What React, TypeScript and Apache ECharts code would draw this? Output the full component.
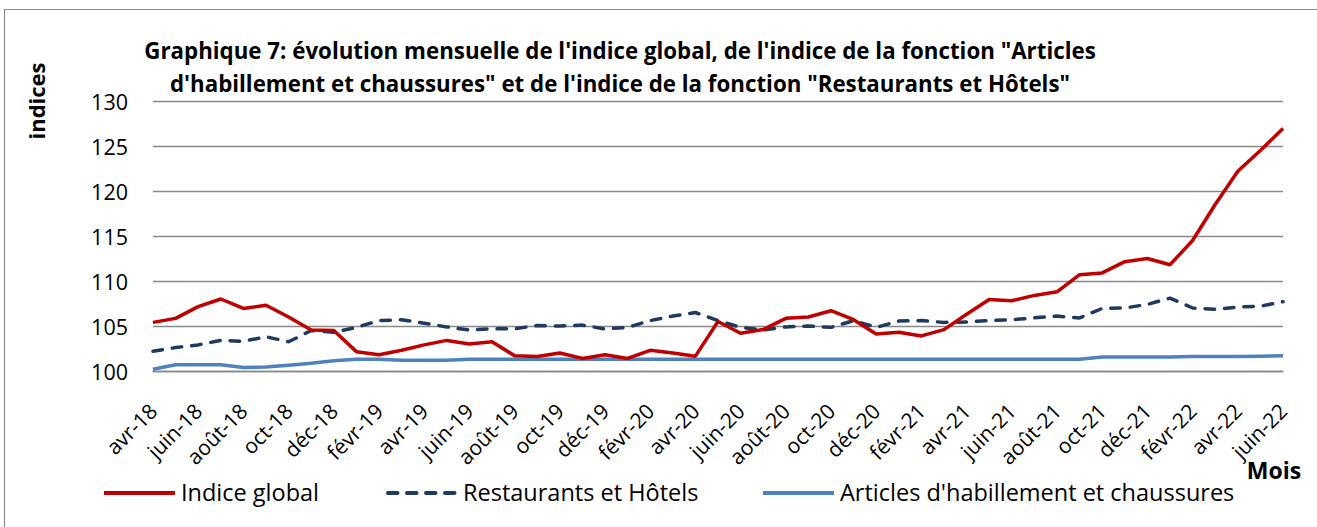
import React, { useEffect, useRef } from "react";
import * as echarts from "echarts";

const months: string[] = [
  "avr-18", "mai-18", "juin-18", "juil-18", "août-18", "sept-18", "oct-18", "nov-18", "déc-18",
  "janv-19", "févr-19", "mars-19", "avr-19", "mai-19", "juin-19", "juil-19", "août-19", "sept-19", "oct-19", "nov-19", "déc-19",
  "janv-20", "févr-20", "mars-20", "avr-20", "mai-20", "juin-20", "juil-20", "août-20", "sept-20", "oct-20", "nov-20", "déc-20",
  "janv-21", "févr-21", "mars-21", "avr-21", "mai-21", "juin-21", "juil-21", "août-21", "sept-21", "oct-21", "nov-21", "déc-21",
  "janv-22", "févr-22", "mars-22", "avr-22", "mai-22", "juin-22",
];

const indiceGlobal: number[] = [
  105.4, 105.85, 107.15, 108.0, 106.95, 107.3, 106.0, 104.55, 104.5, 102.15,
  101.8, 102.3, 102.9, 103.4, 103.0, 103.25, 101.7, 101.6, 102.0, 101.4,
  101.8, 101.4, 102.3, 102.0, 101.65, 105.5, 104.2, 104.6, 105.85, 106.0,
  106.7, 105.7, 104.1, 104.3, 103.9, 104.6, 106.3, 107.95, 107.8, 108.4,
  108.8, 110.7, 110.9, 112.15, 112.5, 111.8, 114.5, 118.5, 122.2, 124.5, 126.95,
];

const restaurants: number[] = [
  102.2, 102.6, 102.9, 103.4, 103.3, 103.8, 103.25, 104.5, 104.3, 104.85,
  105.6, 105.7, 105.3, 104.9, 104.55, 104.7, 104.7, 105.05, 105.0, 105.1,
  104.67, 104.85, 105.6, 106.1, 106.5, 105.6, 104.85, 104.55, 104.9, 105.0,
  104.85, 105.6, 104.85, 105.55, 105.6, 105.4, 105.45, 105.6, 105.7, 105.9,
  106.1, 105.9, 106.95, 107.0, 107.4, 108.1, 107.0, 106.85, 107.1, 107.2, 107.7,
];

const articles: number[] = [
  100.2, 100.7, 100.7, 100.7, 100.4, 100.45, 100.65, 100.85, 101.15, 101.3,
  101.3, 101.2, 101.2, 101.2, 101.3, 101.3, 101.3, 101.3, 101.3, 101.3,
  101.3, 101.3, 101.3, 101.3, 101.3, 101.3, 101.3, 101.3, 101.3, 101.3,
  101.3, 101.3, 101.3, 101.3, 101.3, 101.3, 101.3, 101.3, 101.3, 101.3,
  101.3, 101.3, 101.55, 101.55, 101.55, 101.55, 101.6, 101.6, 101.6, 101.65, 101.7,
];

const seriesNames = ["Indice global", "Restaurants et Hôtels", "Articles d'habillement et chaussures"];
const seriesColors = ["#C00000", "#1F3A5F", "#4F81BD"];
const titleLines = [
  "Graphique 7: évolution mensuelle de l'indice global, de l'indice de la fonction \"Articles",
  "d'habillement et chaussures\" et de l'indice de la fonction \"Restaurants et Hôtels\"",
];

const FONT = "'Open Sans', 'Noto Sans', sans-serif";
const DASH = [9.5, 10];
const LEGEND_DASH = [9.5, 9.5];

export default function App() {
  const ref = useRef<HTMLDivElement>(null);
  useEffect(() => {
    if (!ref.current) return;
    const chart = echarts.init(ref.current, undefined, { renderer: "svg" });
    const grid = "#898989";

    const legendX = [104, 386, 763];
    const legendTextX = [181, 463, 840];
    const legendY = 493;
    const legendGraphics: any[] = [];
    seriesNames.forEach((name, i) => {
      const dashed = i === 1;
      legendGraphics.push({
        type: "line",
        shape: {
          x1: legendX[i] + (dashed ? 2 : 0),
          y1: legendY,
          x2: legendX[i] + (dashed ? 69 : 71),
          y2: legendY,
        },
        style: {
          stroke: seriesColors[i],
          lineWidth: 4,
          lineCap: dashed ? "round" : "butt",
          lineDash: dashed ? LEGEND_DASH : null,
        },
        silent: true,
      });
      legendGraphics.push({
        type: "text",
        x: legendTextX[i],
        y: legendY - 1,
        style: { text: name, fontSize: 23.5, fill: "#000", textAlign: "left", textVerticalAlign: "middle", fontFamily: FONT },
      });
    });

    chart.setOption({
      animation: false,
      backgroundColor: "#ffffff",
      textStyle: { fontFamily: FONT },
      grid: { left: 153, right: 34, top: 101, bottom: 156, containLabel: false },
      xAxis: {
        type: "category",
        data: months,
        boundaryGap: false,
        axisTick: { show: false },
        axisLine: { lineStyle: { color: grid, width: 1.3 } },
        axisLabel: { interval: 1, rotate: 45, fontSize: 21, color: "#000", margin: 36, fontFamily: FONT },
        splitLine: { show: false },
      },
      yAxis: {
        type: "value",
        min: 100,
        max: 130,
        interval: 5,
        axisLine: { show: false },
        axisTick: { show: false },
        axisLabel: { fontSize: 21.5, color: "#000", margin: 25, fontFamily: FONT },
        splitLine: { lineStyle: { color: grid, width: 1.3 } },
      },
      graphic: [
        {
          type: "rect",
          shape: { x: 4.5, y: 9.5, width: 1400, height: 600 },
          style: { fill: "none", stroke: "#8a8a8a", lineWidth: 1.2 },
          silent: true,
        },
        {
          type: "text",
          x: 620,
          y: 50,
          style: { text: titleLines[0], fontSize: 22.3, fontWeight: "bold", fill: "#000", textAlign: "center", textVerticalAlign: "middle", fontFamily: FONT },
        },
        {
          type: "text",
          x: 620,
          y: 83,
          style: { text: titleLines[1], fontSize: 22.3, fontWeight: "bold", fill: "#000", textAlign: "center", textVerticalAlign: "middle", fontFamily: FONT },
        },
        {
          type: "text",
          x: 36,
          y: 101,
          rotation: Math.PI / 2,
          style: { text: "indices", fontSize: 22, fontWeight: "bold", fill: "#000", textAlign: "center", textVerticalAlign: "middle", fontFamily: FONT },
        },
        {
          type: "text",
          x: 1274,
          y: 470,
          style: { text: "Mois", fontSize: 23, fontWeight: "bold", fill: "#000", textAlign: "center", textVerticalAlign: "middle", fontFamily: FONT },
        },
        ...legendGraphics,
      ],
      series: [
        {
          name: seriesNames[0],
          type: "line",
          data: indiceGlobal,
          symbol: "none",
          lineStyle: { color: seriesColors[0], width: 3.5 },
          itemStyle: { color: seriesColors[0] },
          z: 4,
        },
        {
          name: seriesNames[1],
          type: "line",
          data: restaurants,
          symbol: "none",
          lineStyle: { color: seriesColors[1], width: 3.5, type: DASH, cap: "round" },
          itemStyle: { color: seriesColors[1] },
          z: 3,
        },
        {
          name: seriesNames[2],
          type: "line",
          data: articles,
          symbol: "none",
          lineStyle: { color: seriesColors[2], width: 3.5 },
          itemStyle: { color: seriesColors[2] },
          z: 2,
        },
      ],
    });
    return () => chart.dispose();
  }, []);
  return (
    <div
      ref={ref}
      style={{ position: "absolute", left: 0, top: 0, width: 1317, height: 527 }}
    />
  );
}
